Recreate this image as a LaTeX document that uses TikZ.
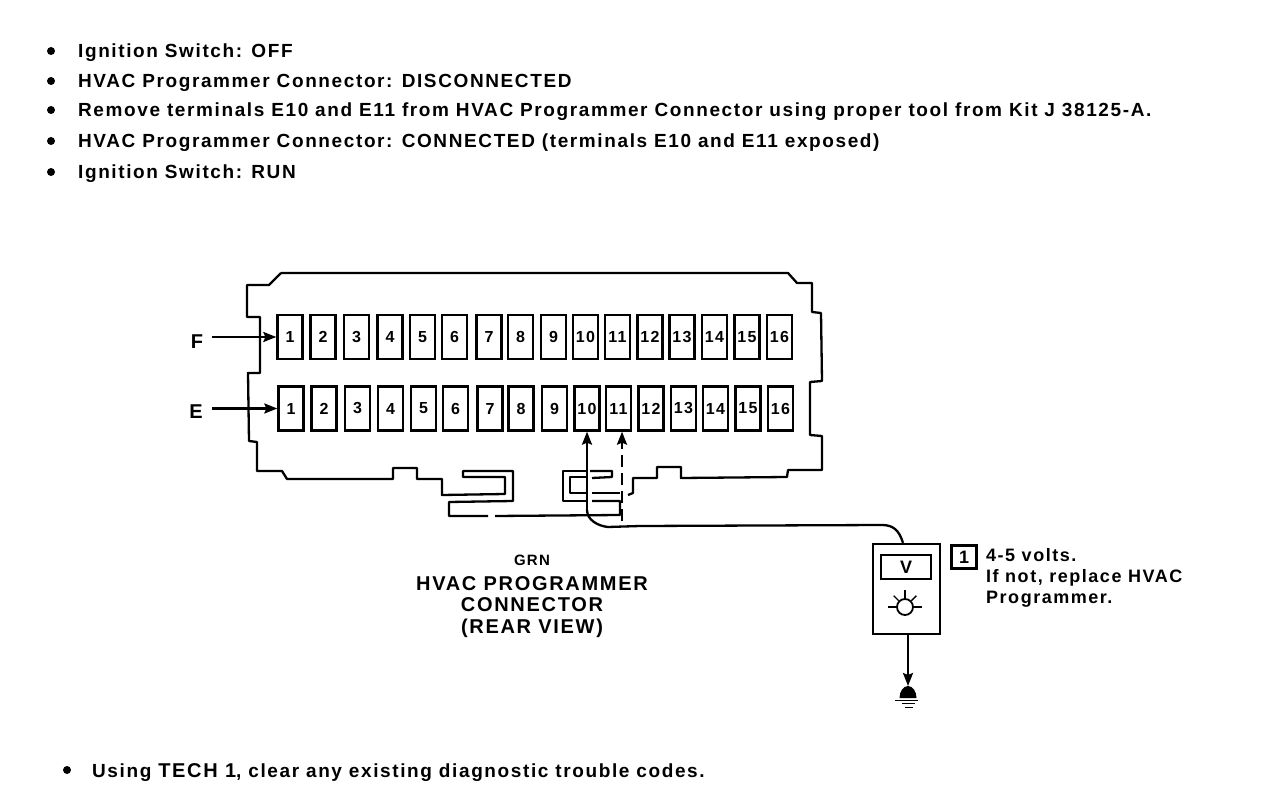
\documentclass[tikz,border=0pt]{standalone}
\usepackage{fontspec}
\setmainfont[LetterSpace=8.5]{Liberation Sans}
\usetikzlibrary{arrows.meta}
\newcommand\bodytxt{\fontsize{19}{21}\selectfont\bfseries}
\newcommand\notetxt{\fontsize{18}{21}\selectfont\bfseries}
\newcommand\titletxt{\fontsize{20}{21.5}\selectfont\bfseries}
\newcommand\pintxt{\fontsize{16}{16}\selectfont\bfseries}
\begin{document}
\begin{tikzpicture}[x=1pt,y=-1pt,>={Stealth[length=13pt,width=10pt,inset=2pt]},line width=2.3pt]
    \tikzstyle{pinbox}=[draw, minimum width=25pt, minimum height=44pt, inner sep=0pt, text=black, font=\pintxt]
    \tikzstyle{bullet}=[circle, fill=black, inner sep=0pt, minimum size=8pt]
    \tikzstyle{textline}=[anchor=base west, inner sep=0pt, font=\bodytxt]
    \tikzstyle{caption}=[inner sep=0pt, font=\titletxt, align=center]
    \tikzstyle{lead}=[->]
    \useasboundingbox (0,0) rectangle (1264,802);

    % setup steps
    \node[bullet] (b1) at (51,51)  {};  \node[textline] (s1) at (77,58)  {Ignition Switch: OFF};
    \node[bullet] (b2) at (51,81)  {};  \node[textline] (s2) at (77,88)  {HVAC Programmer Connector: DISCONNECTED};
    \node[bullet] (b3) at (51,110) {};  \node[textline] (s3) at (77,117) {Remove terminals E10 and E11 from HVAC Programmer Connector using proper tool from Kit J 38125-A.};
    \node[bullet] (b4) at (51,141) {};  \node[textline] (s4) at (77,148) {HVAC Programmer Connector: CONNECTED (terminals E10 and E11 exposed)};
    \node[bullet] (b5) at (51,172) {};  \node[textline] (s5) at (77,179) {Ignition Switch: RUN};
    \node[bullet] (b6) at (67,770) {};  \node[textline] (s6) at (91,777) {Using {\fontsize{20}{21}\selectfont TECH 1}, clear any existing diagnostic trouble codes.};

    % connector body
    \draw[line join=round] (281,273) -- (269,285) -- (247,285) -- (247,317) -- (260,317) -- (260,373) -- (248,373)
      -- (249,441) -- (257,442) -- (257,471) -- (282,471) -- (287,479) -- (393,479) -- (393,468) -- (417,468)
      -- (417,479) -- (442,479) -- (442,495) -- (505,494) -- (505,477) -- (463,477) -- (463,471) -- (513,471)
      -- (513,501) -- (449,502) -- (449,516) -- (488,516);
    \draw[line join=round] (495,516) -- (620,515) -- (620,501) -- (592,501);
    \draw (592,493) -- (620,493);
    \draw[line join=round] (590,471) -- (612,471) -- (612,477) -- (592,478);
    \draw[line join=round] (587,471) -- (563,471) -- (563,501) -- (587,501);
    \draw[line join=round] (587,477) -- (570,477) -- (570,493) -- (587,493);
    \draw[line join=round] (628,495) -- (633,493) -- (633,478) -- (657,478) -- (657,467) -- (681,467) -- (681,478)
      -- (787,477) -- (788,470) -- (822,470) -- (822,436) -- (810,435) -- (810,382) -- (822,381) -- (821,313)
      -- (812,312) -- (812,283) -- (797,283) -- (788,273) -- (281,273);

    % terminals
    \foreach \n/\x in {1/290,2/323,3/356.5,4/390,5/422.5,6/454.5,7/489,8/520.5,9/553.5,10/585.5,11/617.5,12/650,13/682,14/714.5,15/747,16/779.5}
      \node[pinbox] (f\n) at (\x,337) {\n};
    \foreach \n/\x in {1/291,2/324,3/357.5,4/390.5,5/423.5,6/455.5,7/490,8/521,9/554.5,10/587,11/618.5,12/651,13/683.5,14/715.5,15/748,16/780.5}
      \node[pinbox] (e\n) at (\x,408.5) {\n};

    \node[caption] (fl) at (197,342) {F};
    \node[caption] (el) at (196,412) {E};
    \coordinate (ftail) at (212,337);
    \coordinate (etail) at (212,408.5);
    \draw[lead] (ftail) -- (f1.west);
    \draw[lead] (etail) -- (e1.west);

    % meter
    \node[draw, minimum width=67pt, minimum height=90pt, inner sep=0pt] (meter) at (906.5,589) {};
    \node[draw, minimum width=50pt, minimum height=24pt, inner sep=0pt, font=\notetxt] (vbox) at (906,567) {V};
    \node[draw, circle, minimum size=16pt, inner sep=0pt, line width=1.8pt] (lamp) at (905,607) {};
    \draw[line width=1.4pt] (lamp.north) -- ++(0,-8);
    \draw[line width=1.4pt] (lamp.west) -- ++(-8,0);
    \draw[line width=1.4pt] (lamp.east) -- ++(8,0);
    \draw[line width=1.4pt] (lamp.north west) -- ++(-5,-5);
    \draw[line width=1.4pt] (lamp.north east) -- ++(5,-5);

    % leads
    \coordinate (tap) at (587,510);
    \coordinate (ring) at (622,521);
    \draw (meter.north -| 903,0) .. controls (899,530) and (893,525) .. (882,525)
      -- (640,526) -- (608,527) .. controls (598,526) and (587,520) .. (tap);
    \draw[lead] (tap) -- (e10.south);
    \draw[lead, dash pattern=on 12pt off 6pt] (ring) -- (ring |- e11.south);

    % ground
    \coordinate (gnd) at (908,686);
    \draw[lead] (meter.south -| gnd) -- (gnd);
    \fill (899.5,698) arc[start angle=180, end angle=360, x radius=8.5, y radius=12] -- cycle;
    \draw[line width=1pt] (895,700) -- (918,700);
    \draw[line width=1pt] (902,703) -- (915,703);
    \draw[line width=1pt] (905,707) -- (913,707);

    % note
    \node[draw, line width=2.8pt, minimum width=25pt, minimum height=23pt, inner sep=0pt, font=\notetxt] (note) at (964,557) {1};
    \node[anchor=north west, inner sep=0pt, font=\notetxt, align=left] (remark) at (985,547) {4-5 volts.\\If not, replace HVAC\\Programmer.};

    \node[caption, font=\fontsize{15}{15}\selectfont\bfseries] (grn) at (532,560) {GRN};
    \node[caption] (title) at (532,607) {HVAC PROGRAMMER\\CONNECTOR\\(REAR VIEW)};
\end{tikzpicture}
\end{document}
